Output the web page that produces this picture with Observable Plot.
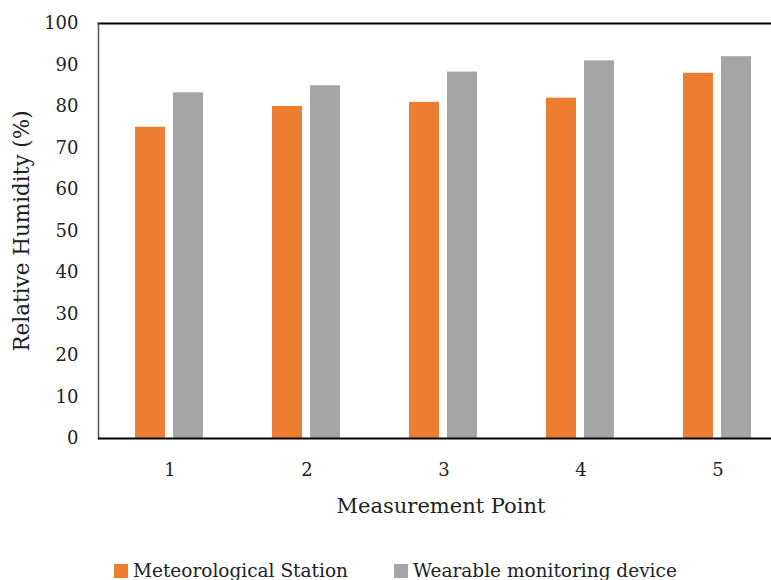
<!DOCTYPE html>
<html>
<head>
<meta charset="utf-8">
<script src="https://cdn.jsdelivr.net/npm/d3@7"></script>
<script src="https://cdn.jsdelivr.net/npm/@observablehq/plot@0.6"></script>
<style>
  body { margin: 0; background: #fff; font-family: "DejaVu Serif", serif; }
  #wrap { position: relative; width: 771px; height: 580px; overflow: hidden; }
  #legend { position: absolute; left: 114px; top: 560px; display: flex; align-items: center; font-size: 18.5px; color: #222; white-space: nowrap; }
  .sw { display: inline-block; width: 14px; height: 14px; margin-right: 5px; }
  .item { display: flex; align-items: center; margin-right: 46px; }
</style>
</head>
<body>
<div id="wrap"><div id="chart"></div><div id="legend"></div></div>
<script>
const points = ["1", "2", "3", "4", "5"];
const meteorological = [75, 80, 81, 82, 88];
const wearable = [83.3, 85, 88.3, 91, 92];
const seriesNames = ["Meteorological Station", "Wearable monitoring device"];
const seriesColors = ["#ED7D31", "#A5A5A5"];
const yTicks = [0, 10, 20, 30, 40, 50, 60, 70, 80, 90, 100];

const metData = points.map((p, i) => ({point: p, value: meteorological[i]}));
const wearData = points.map((p, i) => ({point: p, value: wearable[i]}));

const font = "DejaVu Serif, serif";

const chart = Plot.plot({
  width: 771,
  height: 548,
  marginLeft: 98,
  marginRight: 0,
  marginTop: 23,
  marginBottom: 110,
  style: {fontFamily: font, fontSize: "17px", color: "#222", background: "#fff"},
  x: {domain: points, range: [101, 786], padding: 0},
  y: {domain: [0, 100]},
  marks: [
    Plot.barY(metData, {x: "point", y: "value", fill: seriesColors[0], insetLeft: 34, insetRight: 73}),
    Plot.barY(wearData, {x: "point", y: "value", fill: seriesColors[1], insetLeft: 72, insetRight: 35}),
    Plot.frame({anchor: "top", stroke: "#000", strokeWidth: 2}),
    Plot.frame({anchor: "left", stroke: "#555", strokeWidth: 1.5}),
    Plot.ruleY([0], {stroke: "#000", strokeWidth: 2}),
    Plot.axisY({ticks: yTicks, tickSize: 0, tickPadding: 20, label: null, fontSize: 18}),
    Plot.axisX({tickSize: 0, tickPadding: 25, label: null, fontSize: 18}),
    Plot.text(["Relative Humidity (%)"], {frameAnchor: "left", textAnchor: "middle", dx: -76, rotate: -90, fontSize: 21.5, fill: "#222"}),
    Plot.text(["Measurement Point"], {frameAnchor: "bottom", dy: 74, dx: 6, fontSize: 21, fill: "#222"})
  ]
});
document.getElementById("chart").appendChild(chart);

const legend = document.getElementById("legend");
seriesNames.forEach((name, i) => {
  const item = document.createElement("div");
  item.className = "item";
  item.innerHTML = `<span class="sw" style="background:${seriesColors[i]}"></span><span>${name}</span>`;
  legend.appendChild(item);
});
</script>
</body>
</html>
